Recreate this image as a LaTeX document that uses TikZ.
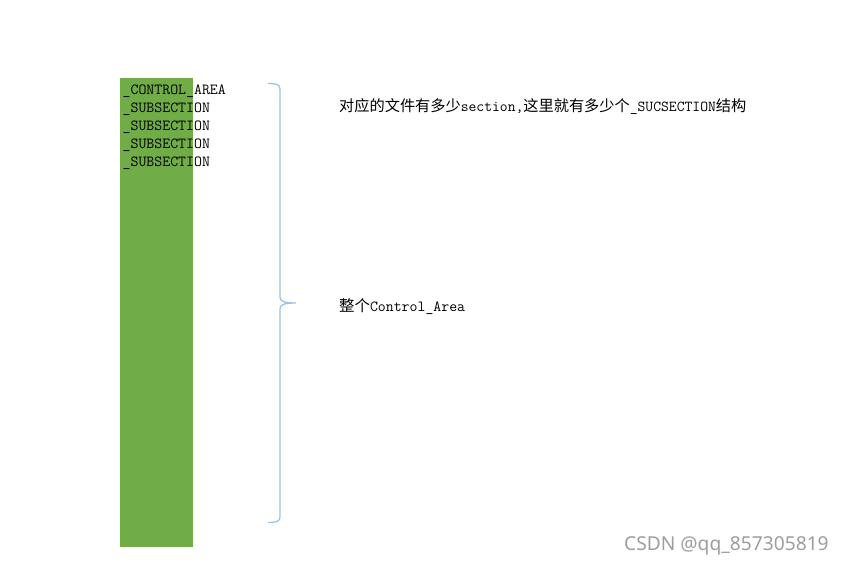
\documentclass[tikz,border=0pt]{standalone}
\usepackage{fontspec}
\setmonofont{Latin Modern Mono}
\newfontfamily\cjk{Noto Sans CJK SC}
\newfontfamily\marksans{Noto Sans}
\usepackage{tikz}
\usetikzlibrary{calc,positioning}
\definecolor{areagreen}{HTML}{70AD47}
\definecolor{braceblue}{HTML}{9DC3E6}
\tikzset{
	monotext/.style={inner sep=0pt, anchor=base west, font=\fontsize{15.4}{18}\selectfont\ttfamily},
	marktext/.style={inner sep=0pt, anchor=base west, text=black!38, font=\fontsize{19.2}{21}\selectfont\marksans}
}

\begin{document}
\begin{tikzpicture}[x=1pt, y=-1pt]
			%%%%% START %%%%%
			
			\useasboundingbox[fill=white] (0, 0) rectangle (843, 569);
			
			\fill[areagreen] (120, 78) rectangle (193, 547);
			
			\node[monotext] (ctrlarea) at (122.5, 95) {\_CONTROL\_AREA};
			\foreach \i in {1,...,4}
				\node[monotext] (subsec\i) at (122.5, {95+18*\i}) {\_SUBSECTION};
			
			\draw[line width=1.3pt, color=braceblue] (268, 83.5) .. controls (275, 83.5) and (280, 84) .. (280, 89)
				-- (280, 297) .. controls (280, 301) and (283, 303) .. (296, 303)
				.. controls (283, 303) and (280, 305) .. (280, 309)
				-- (280, 517) .. controls (280, 522) and (275, 522.5) .. (268, 522.5);
			
			\node[monotext, font=\fontsize{15.2}{18}\selectfont\ttfamily] (note) at (339, 112) {{\cjk 对应的文件有多少}section,{\cjk 这里就有多少个}\_SUCSECTION{\cjk 结构}};
			\node[monotext] (whole) at (339, 311) {{\cjk 整个}Control\_Area};
			
			\node[marktext] (mark) at (624, 550) {CSDN @qq\_857305819};
			
			%%%%% END %%%%%
		\end{tikzpicture}
\end{document}
